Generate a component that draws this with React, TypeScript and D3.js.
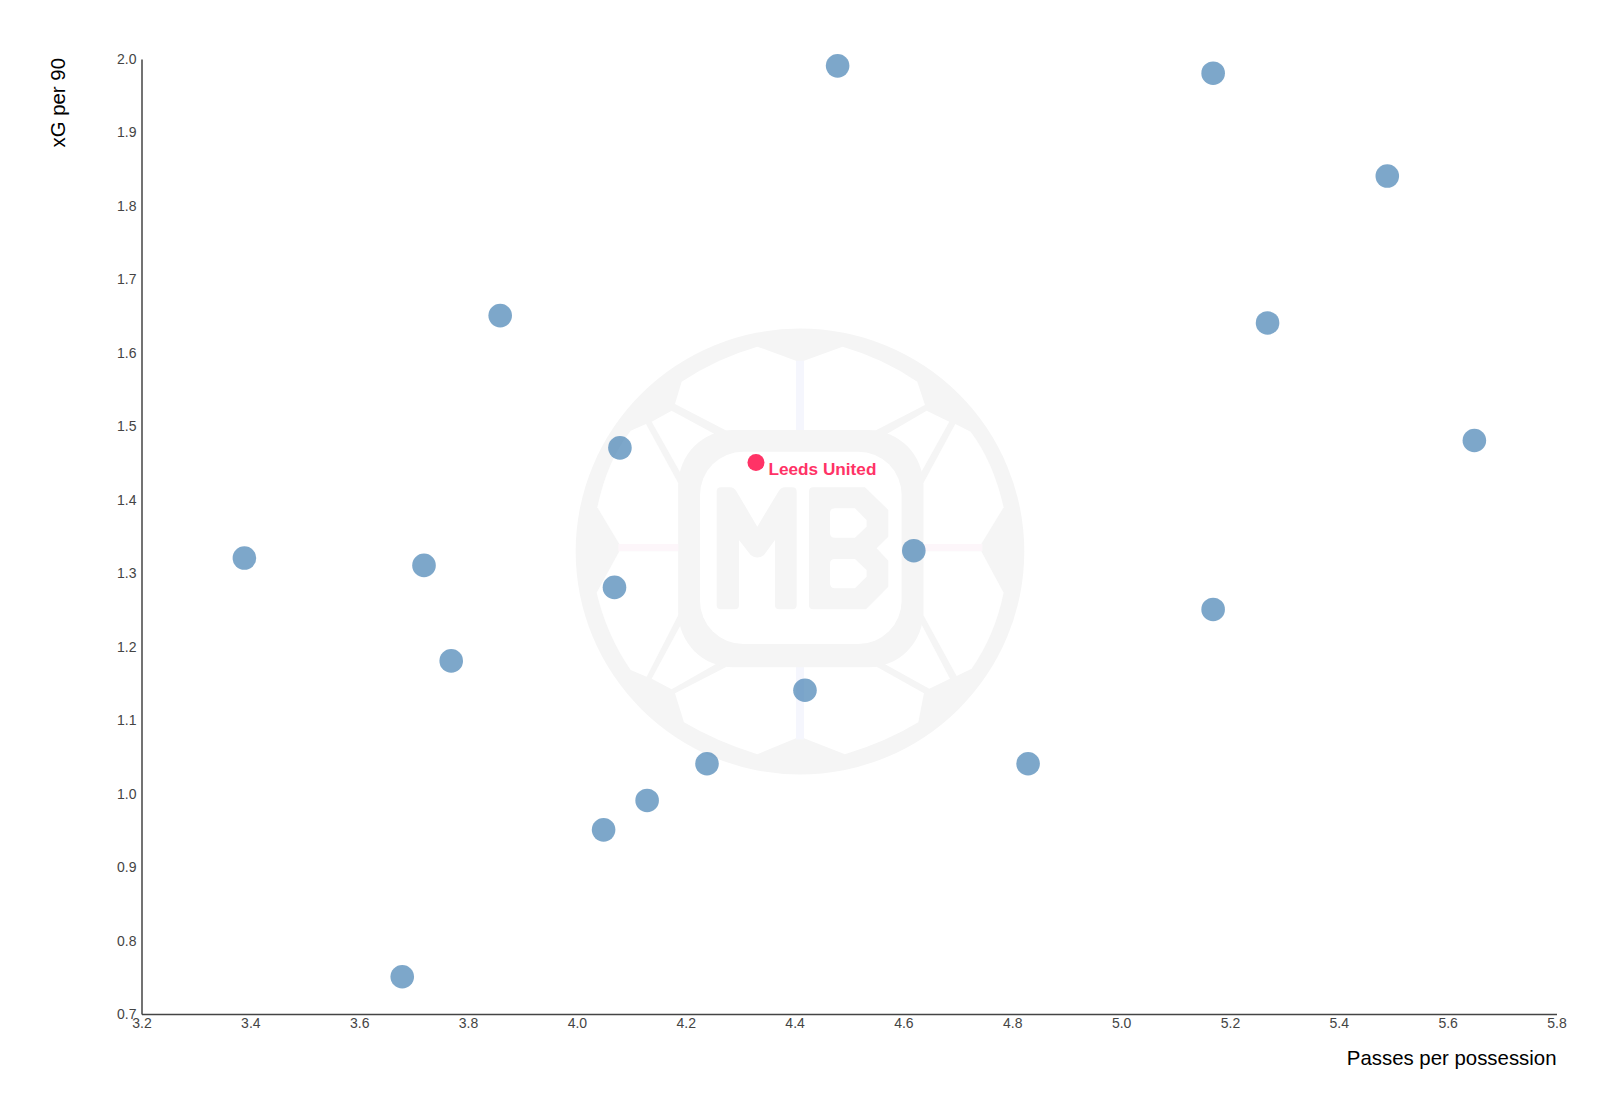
import { useEffect, useRef } from 'react'
import * as d3 from 'd3'

const width = 1600
const height = 1102

const teams = ['Team 1', 'Team 2', 'Team 3', 'Team 4', 'Team 5', 'Team 6', 'Team 7', 'Team 8', 'Team 9', 'Team 10', 'Team 11', 'Team 12', 'Team 13', 'Team 14', 'Team 15', 'Team 16', 'Team 17', 'Team 18', 'Team 19']
const passesPerPossession = [3.39, 3.72, 3.77, 3.68, 3.86, 4.05, 4.07, 4.08, 4.13, 4.24, 4.42, 4.48, 4.62, 4.83, 5.17, 5.17, 5.27, 5.49, 5.65]
const xgPer90 = [1.32, 1.31, 1.18, 0.75, 1.65, 0.95, 1.28, 1.47, 0.99, 1.04, 1.14, 1.99, 1.33, 1.04, 1.98, 1.25, 1.64, 1.84, 1.48]

const highlightName = 'Leeds United'
const highlightX = 4.33
const highlightY = 1.45

const xTicks = [3.2, 3.4, 3.6, 3.8, 4.0, 4.2, 4.4, 4.6, 4.8, 5.0, 5.2, 5.4, 5.6, 5.8]
const yTicks = [0.7, 0.8, 0.9, 1.0, 1.1, 1.2, 1.3, 1.4, 1.5, 1.6, 1.7, 1.8, 1.9, 2.0]

const margin = { top: 59, right: 43.5, bottom: 88, left: 141.5 }
const fontFamily = '"Liberation Sans", Arial, sans-serif'

// Watermark panels, drawn in a 1440 box placed over the plot centre
const logoPanels = [
  'M592,110 L708,152 L708,362 L500,362 L345,282 L365,215 Q470,145 592,110Z',
  'M848,110 L732,152 L732,362 L945,362 L1095,285 L1072,215 Q970,145 848,110Z',
  'M335,302 L475,378 Q395,420 362,490 L275,335Z',
  'M1100,302 L970,378 Q1050,420 1082,490 L1168,335Z',
  'M212,362 L258,342 L355,520 L355,702 L178,702 L112,592 Q140,455 212,362Z',
  'M1232,365 L1186,342 L1090,520 L1090,702 L1264,702 L1331,592 Q1300,455 1232,365Z',
  'M110,848 L178,724 L355,724 L355,915 L260,1100 L212,1080 Q140,975 110,848Z',
  'M1331,848 L1264,724 L1090,724 L1090,915 L1190,1098 L1235,1076 Q1305,975 1331,848Z',
  'M362,945 Q395,1020 472,1060 L335,1138 L275,1106Z',
  'M1082,938 Q1050,1020 970,1060 L1108,1136 L1170,1106Z',
  'M345,1150 L500,1070 L708,1070 L708,1285 L592,1333 Q470,1295 372,1237Z',
  'M1092,1150 L950,1070 L732,1070 L732,1285 L855,1333 Q980,1295 1075,1237Z',
]
const logoM = 'M470,545 q0,-13 13,-13 L510,532 q12,0 20,13 L592,650 L655,545 q8,-13 20,-13 L697,532 q13,0 13,13 L710,885 q0,13 -13,13 L658,898 q-13,0 -13,-13 L645,690 L612,735 q-20,15 -40,0 L537,690 L537,885 q0,13 -13,13 L483,898 q-13,0 -13,-13Z'
const logoB = 'M747,545 q0,-13 13,-13 L915,532 L985,600 L985,680 L950,715 L985,752 L985,830 L918,898 L760,898 q-13,0 -13,-13Z M810,610 q0,-15 15,-15 L885,595 L920,630 L920,650 L885,683 L825,683 q-15,0 -15,-15Z M810,762 q0,-15 15,-15 L885,747 L920,780 L920,800 L885,835 L825,835 q-15,0 -15,-15Z'

function Watermark() {
  const grey = '#f5f5f5'
  return (
    <g transform="translate(560,310) scale(0.3333)">
      <ellipse cx={720} cy={724.5} rx={673} ry={669} fill={grey} />
      <rect x={708} y={152} width={24} height={215} fill="#f5f6fd" />
      <rect x={708} y={1068} width={24} height={220} fill="#f5f6fd" />
      <rect x={175} y={702} width={185} height={22} fill="#fdf6fa" />
      <rect x={1085} y={702} width={182} height={22} fill="#fdf6fa" />
      {logoPanels.map(d => (
        <path key={d} d={d} fill="#fff" />
      ))}
      <rect x={355} y={360} width={735} height={712} rx={165} fill={grey} />
      <rect x={420} y={425} width={605} height={577} rx={130} fill="#fff" />
      <path d={logoM} fill={grey} />
      <path d={logoB} fill={grey} fillRule="evenodd" />
    </g>
  )
}

export default function App() {
  const xAxisRef = useRef<SVGGElement>(null)
  const yAxisRef = useRef<SVGGElement>(null)

  const x = d3.scaleLinear().domain([3.2, 5.8]).range([margin.left, width - margin.right])
  const y = d3.scaleLinear().domain([0.7, 2.0]).range([height - margin.bottom, margin.top])

  useEffect(() => {
    const xAxis = d3.axisBottom(x).tickValues(xTicks).tickFormat(d3.format('.1f')).tickSize(0).tickPadding(4)
    const yAxis = d3.axisLeft(y).tickValues(yTicks).tickFormat(d3.format('.1f')).tickSize(0).tickPadding(5)

    const xg = d3.select(xAxisRef.current!).call(xAxis as any)
    const yg = d3.select(yAxisRef.current!).call(yAxis as any)

    for (const g of [xg, yg]) {
      g.attr('font-family', fontFamily).attr('font-size', 14)
      g.select('.domain').attr('stroke', '#444').attr('stroke-width', 1.5)
      g.selectAll('text').attr('fill', '#444')
    }
  }, [])

  return (
    <svg
      width={width}
      height={height}
      style={{ position: 'absolute', top: 0, left: 0, background: '#fff' }}
    >
      <Watermark />

      <g ref={xAxisRef} transform={`translate(0,${height - margin.bottom})`} />
      <g ref={yAxisRef} transform={`translate(${margin.left},0)`} />

      <g transform="translate(-0.5,-0.5)">
        {teams.map((team, i) => (
          <circle
            key={team}
            cx={x(passesPerPossession[i])}
            cy={y(xgPer90[i])}
            r={11.8}
            fill="steelblue"
            fillOpacity={0.7}
          />
        ))}

        <circle cx={x(highlightX)} cy={y(highlightY)} r={8.5} fill="#ff3366" />
        <text
          x={x(highlightX) + 12.5}
          y={y(highlightY) + 12.5}
          fontFamily={fontFamily}
          fontSize={17.2}
          fontWeight="bold"
          fill="#ff3366"
        >
          {highlightName}
        </text>
      </g>

      <text
        x={width - margin.right}
        y={1065}
        textAnchor="end"
        fontFamily={fontFamily}
        fontSize={20.4}
        fill="#000"
      >
        Passes per possession
      </text>
      <text
        transform={`translate(65,${margin.top - 1}) rotate(-90)`}
        textAnchor="end"
        fontFamily={fontFamily}
        fontSize={20.4}
        fill="#000"
      >
        xG per 90
      </text>
    </svg>
  )
}
